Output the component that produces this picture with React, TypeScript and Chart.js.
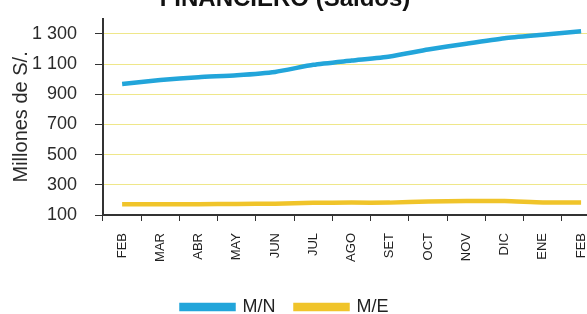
import React, { useEffect, useRef } from "react";
import { Chart, registerables } from "chart.js";
Chart.register(...registerables);

const categories = ["FEB", "MAR", "ABR", "MAY", "JUN", "JUL", "AGO", "SET", "OCT", "NOV", "DIC", "ENE", "FEB"];
const mnValues = [968, 994, 1013, 1026, 1048, 1095, 1123, 1150, 1196, 1235, 1271, 1294, 1317];
const meValues = [172, 172, 172, 173, 175, 181, 182, 182, 190, 192, 192, 183, 183];
const yTicks = [100, 300, 500, 700, 900, 1100, 1300];
const seriesNames = ["M/N", "M/E"];
const titleText = "FINANCIERO (Saldos)";
const yTitleText = "Millones de S/.";

const CANVAS_W = 640;
const CANVAS_H = 349;
const OFF_X = -31;
const OFF_Y = -15;

const FONT = "'Liberation Sans', Arial, sans-serif";

export default function App() {
  const ref = useRef<HTMLCanvasElement | null>(null);
  useEffect(() => {
    if (!ref.current) return;
    const chart = new Chart(ref.current, {
      type: "line",
      data: {
        labels: categories,
        datasets: [
          {
            label: seriesNames[0],
            data: mnValues,
            borderColor: "#22a5da",
            backgroundColor: "#22a5da",
            borderWidth: 4.5,
            pointRadius: 0,
            tension: 0.2,
          },
          {
            label: seriesNames[1],
            data: meValues,
            borderColor: "#f0c42a",
            backgroundColor: "#f0c42a",
            borderWidth: 4.5,
            pointRadius: 0,
            tension: 0.2,
          },
        ],
      },
      options: {
        animation: false,
        responsive: false,
        maintainAspectRatio: false,
        layout: { padding: { left: 0, right: 8, top: 0, bottom: 8 } },
        plugins: {
          title: {
            display: true,
            text: titleText,
            color: "#111",
            font: { family: FONT, size: 24, weight: "bold" },
            padding: { top: 0, bottom: 5 },
          },
          legend: {
            display: true,
            position: "bottom",
            labels: {
              boxWidth: 52,
              boxHeight: 4,
              color: "#222",
              padding: 20,
              font: { family: FONT, size: 18 },
            },
          },
          tooltip: { enabled: false },
        },
        scales: {
          x: {
            offset: true,
            grid: {
              display: true,
              drawOnChartArea: false,
              drawTicks: true,
              tickLength: 6,
              tickColor: "#333",
              offset: true,
            },
            border: { display: true, color: "#333", width: 2 },
            ticks: {
              minRotation: 90,
              maxRotation: 90,
              autoSkip: false,
              padding: 12,
              color: "#222",
              font: { family: FONT, size: 13 },
            },
            afterFit: (scale: any) => {
              scale.height = 63;
            },
          },
          y: {
            min: 100,
            max: 1400,
            afterBuildTicks: (scale: any) => {
              scale.ticks = yTicks.map((v) => ({ value: v }));
            },
            grid: {
              color: "#efe78a",
              lineWidth: 1,
              drawTicks: true,
              tickLength: 8,
              tickColor: "#333",
            },
            border: { display: true, color: "#333", width: 2 },
            ticks: {
              padding: 18,
              color: "#2a2a2a",
              font: { family: FONT, size: 18 },
              callback: (v: any) => {
                const n = Number(v);
                return n >= 1000 ? Math.floor(n / 1000) + " " + String(n % 1000).padStart(3, "0") : String(n);
              },
            },
            title: {
              display: true,
              text: yTitleText,
              color: "#2a2a2a",
              font: { family: FONT, size: 20 },
              padding: { top: 40, bottom: 0 },
            },
            afterFit: (scale: any) => {
              scale.width = 134;
            },
          },
        },
      },
    });
    return () => chart.destroy();
  }, []);

  return (
    <div style={{ position: "fixed", left: 0, top: 0, width: 587, height: 314, overflow: "hidden", background: "#fff" }}>
      <canvas
        ref={ref}
        width={CANVAS_W}
        height={CANVAS_H}
        style={{ position: "absolute", left: OFF_X, top: OFF_Y, width: CANVAS_W, height: CANVAS_H }}
      />
    </div>
  );
}
